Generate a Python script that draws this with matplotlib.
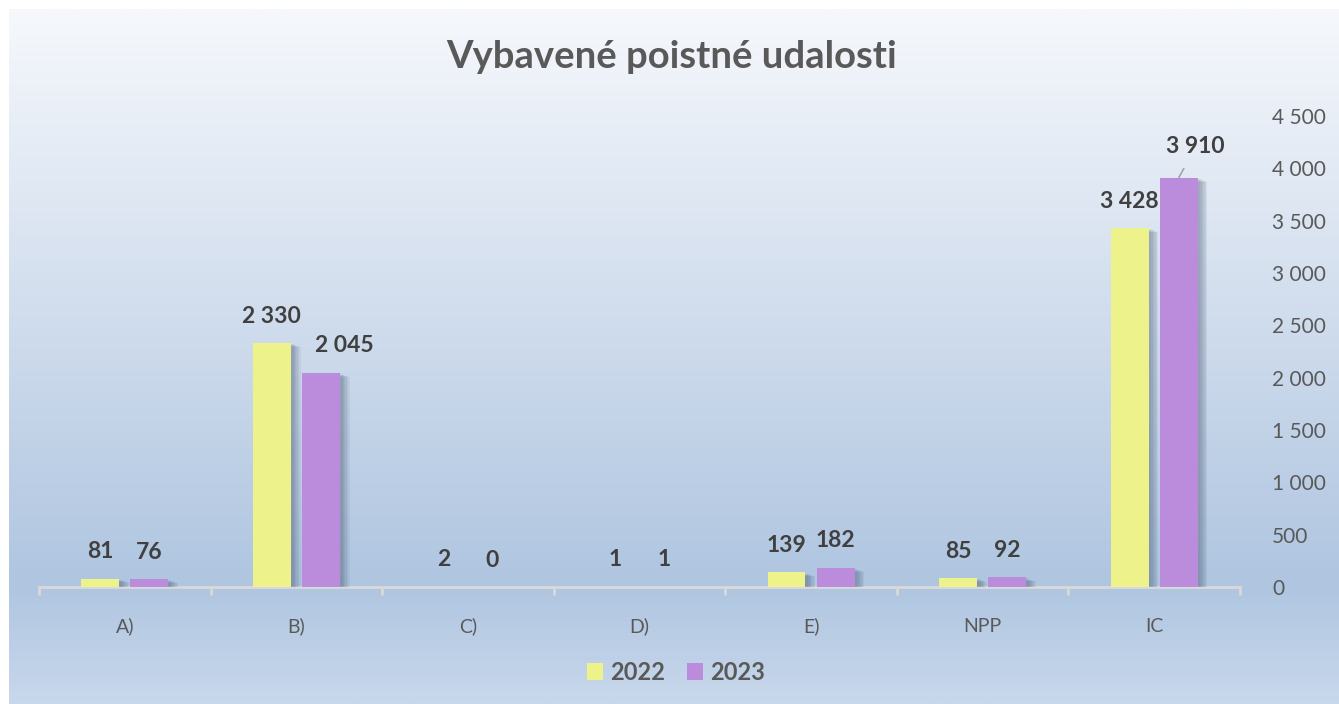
import matplotlib.pyplot as plt
import matplotlib.patheffects as pe
from matplotlib.colors import LinearSegmentedColormap
from matplotlib.ticker import FuncFormatter, FixedLocator
import numpy as np

# data
categories = ['A)', 'B)', 'C)', 'D)', 'E)', 'NPP', 'IC']
years = ['2022', '2023']
values_2022 = [81, 2330, 2, 1, 139, 85, 3428]
values_2023 = [76, 2045, 0, 1, 182, 92, 3910]

colors = ['#EDF28A', '#BC8CDC']
txt_grey = '#595959'
lab_grey = '#404040'

plt.rcParams['font.family'] = ['Lato', 'DejaVu Sans']

W, H = 1339, 704
fig = plt.figure(figsize=(W / 100, H / 100), dpi=100)
fig.patch.set_facecolor('white')

# background gradient panel
bg = fig.add_axes([9 / W, 0, 1 - 9 / W, (H - 9) / H], zorder=-10)
cmap = LinearSegmentedColormap.from_list(
    'bg', [(0, '#F6F8FC'), (0.83, '#AFC5E0'), (1.0, '#C8D8EC')])
grad = np.linspace(0, 1, 400).reshape(-1, 1)
bg.imshow(grad, aspect='auto', cmap=cmap, extent=[0, 1, 0, 1], origin='upper')
bg.set_axis_off()

ax = fig.add_axes([39 / W, (H - 587) / H, (1240 - 39) / W, (587 - 116) / H])
ax.patch.set_alpha(0)

x = np.arange(len(categories))
width = 0.221
offset = 0.143

# soft shadow to the right, built from a few stacked offsets
shadow = [pe.SimplePatchShadow(offset=(k, -k * 0.4), shadow_rgbFace='#3f5068', alpha=0.08)
          for k in (7, 6, 5, 4, 3, 2)] + [pe.Normal()]

series = [values_2022, values_2023]
bars = []
for i, vals in enumerate(series):
    b = ax.bar(x + (i * 2 - 1) * offset, vals, width, color=colors[i],
               label=years[i], zorder=3)
    for p in b:
        p.set_path_effects(shadow)
    bars.append(b)

# label nudges (px) where Excel moved labels
nudge = {(1, 1): (23, 0), (1, 6): (17, 4)}
for i, b in enumerate(bars):
    for j, p in enumerate(b):
        v = series[i][j]
        dx, dy = nudge.get((i, j), (0, 0))
        cx = p.get_x() + p.get_width() / 2
        kw = {}
        if (i, j) == (1, 6):
            kw['arrowprops'] = dict(arrowstyle='-', color='#A6A6A6', lw=1.2,
                                    shrinkA=7, shrinkB=0)
        ax.annotate(f'{v:,}'.replace(',', ' '), xy=(cx, v),
                    xytext=(dx / 1.389, (27 + dy) / 1.389),
                    textcoords='offset points', ha='center', va='center',
                    fontsize=16.5, fontweight='bold', color=lab_grey, **kw)

ax.set_xlim(-0.5, len(categories) - 0.5)
ax.set_ylim(0, 4500)

for s in ['left', 'top', 'right']:
    ax.spines[s].set_visible(False)
ax.spines['bottom'].set_color('#D9D9D9')
ax.spines['bottom'].set_linewidth(2)
ax.spines['bottom'].set_zorder(2)

ax.set_xticks(x)
ax.set_xticklabels(categories, fontsize=14, color=txt_grey)
ax.tick_params(axis='x', which='major', length=0, pad=22)
ax.xaxis.set_minor_locator(FixedLocator(np.arange(-0.5, len(categories), 1)))
ax.tick_params(axis='x', which='minor', length=5.5, width=2, color='#D9D9D9')

ax.yaxis.tick_right()
ax.set_yticks(np.arange(0, 4501, 500))
ax.yaxis.set_major_formatter(FuncFormatter(lambda v, _: f'{int(v):,}'.replace(',', ' ')))
ax.tick_params(axis='y', length=0, pad=23, labelsize=15, labelcolor=txt_grey)

fig.text(672 / W, 1 - 57 / H, 'Vybavené poistné udalosti', ha='center', va='center',
         fontsize=27.5, fontweight='bold', color=txt_grey)

leg = fig.legend(loc='center', bbox_to_anchor=(676 / W, 1 - 672 / H), ncol=2,
                 frameon=False, handlelength=0.7, handleheight=0.7,
                 handletextpad=0.3, columnspacing=0.9,
                 prop={'size': 17, 'weight': 'bold'})
for h in leg.legend_handles:
    h.set_path_effects([])
for t in leg.get_texts():
    t.set_color(txt_grey)

fig.savefig('out.png', dpi=100)
